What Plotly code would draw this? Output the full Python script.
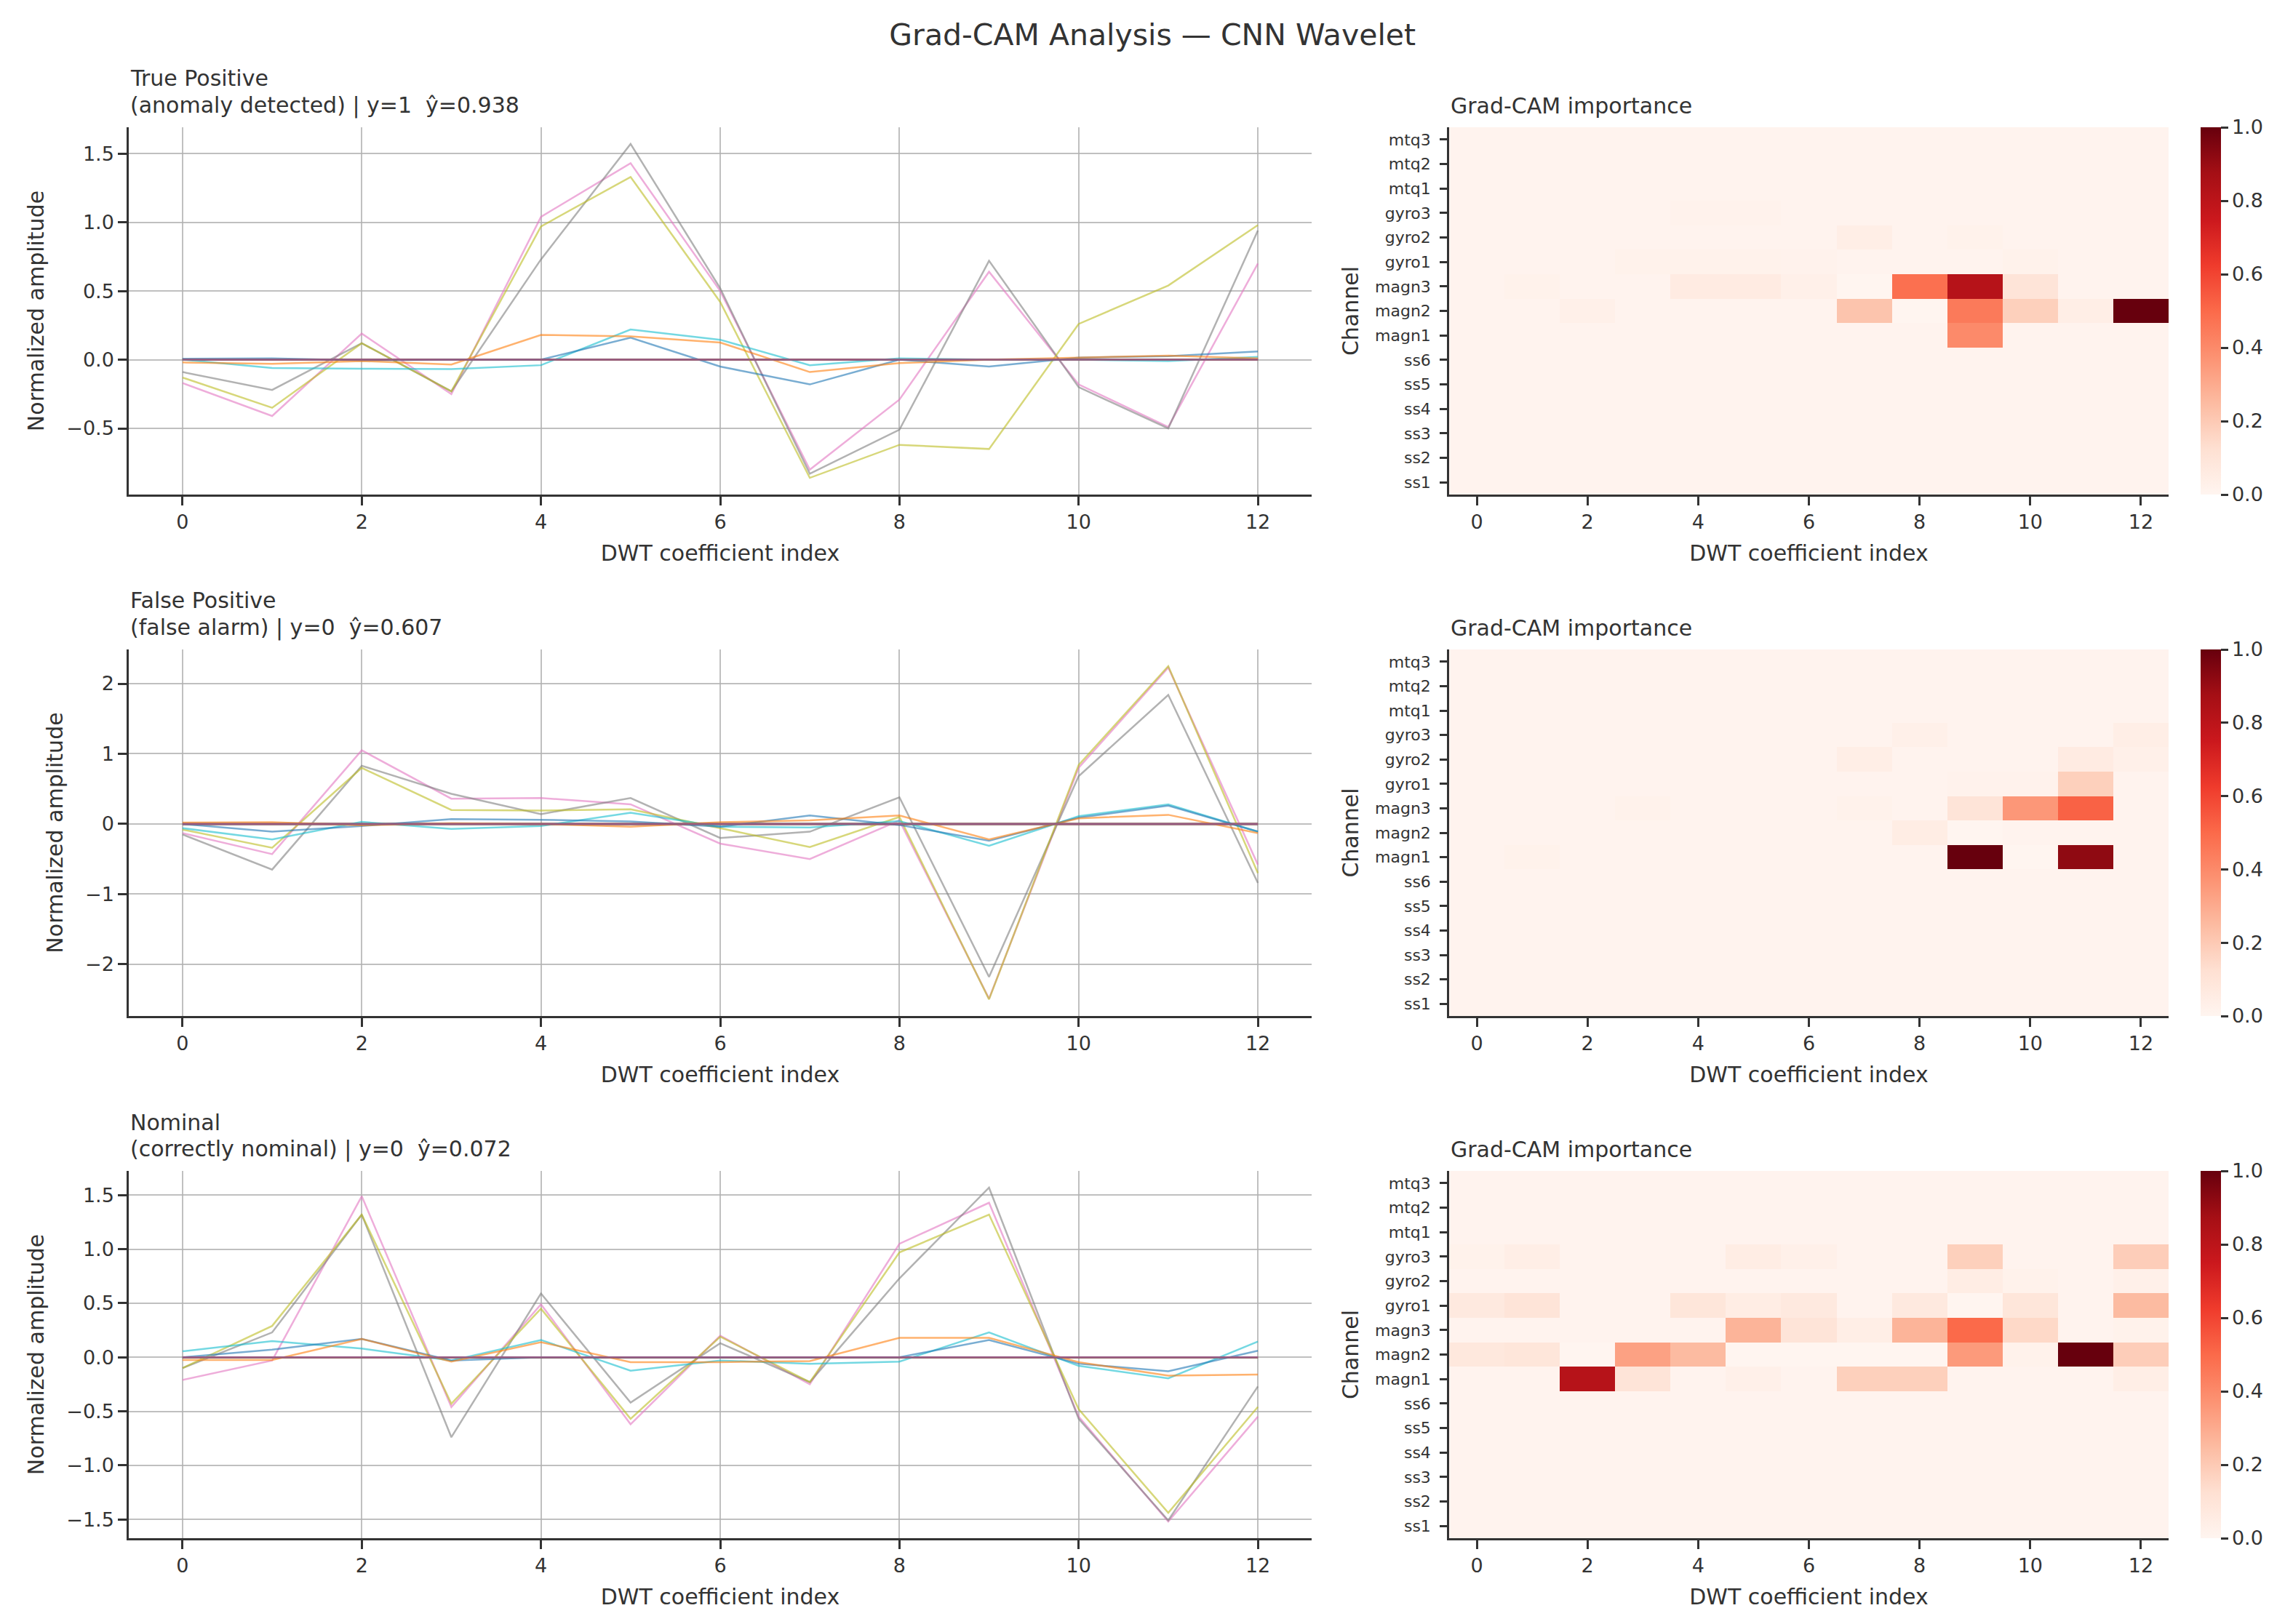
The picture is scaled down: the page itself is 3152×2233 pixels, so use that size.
import plotly.graph_objects as go
import plotly.colors as pc

# ---------------- data ----------------
coef_idx = list(range(13))
channels = ["ss1", "ss2", "ss3", "ss4", "ss5", "ss6",
            "magn1", "magn2", "magn3", "gyro1", "gyro2", "gyro3",
            "mtq1", "mtq2", "mtq3"]
channel_colors = ["#1f77b4", "#ff7f0e", "#2ca02c", "#d62728", "#9467bd", "#8c564b",
                  "#e377c2", "#7f7f7f", "#bcbd22", "#17becf", "#1f77b4", "#ff7f0e",
                  "#2ca02c", "#d62728", "#9467bd"]

case_names = ["True Positive", "False Positive", "Nominal"]
case_details = ["(anomaly detected) | y=1 \u00a0ŷ=0.938",
                "(false alarm) | y=0 \u00a0ŷ=0.607",
                "(correctly nominal) | y=0 \u00a0ŷ=0.072"]

flat = [0, 0, 0, 0, 0, 0, 0, 0, 0, 0, 0, 0, 0]

# signals: True Positive
tp_magn1 = [-0.17, -0.41, 0.19, -0.25, 1.04, 1.43, 0.50, -0.80, -0.29, 0.64, -0.18, -0.49, 0.70]
tp_magn2 = [-0.09, -0.22, 0.12, -0.23, 0.73, 1.57, 0.52, -0.83, -0.51, 0.72, -0.20, -0.50, 0.94]
tp_magn3 = [-0.13, -0.35, 0.12, -0.23, 0.97, 1.33, 0.42, -0.86, -0.62, -0.65, 0.26, 0.54, 0.98]
tp_gyro1 = [0.00, -0.06, -0.066, -0.068, -0.04, 0.22, 0.145, -0.04, 0.01, 0.00, 0.00, -0.01, 0.02]
tp_gyro2 = [0.007, 0.01, -0.005, 0.00, 0.00, 0.16, -0.05, -0.18, 0.00, -0.05, 0.015, 0.025, 0.06]
tp_gyro3 = [-0.02, -0.03, -0.01, -0.035, 0.18, 0.17, 0.125, -0.09, -0.025, 0.00, 0.015, 0.03, 0.01]

# signals: False Positive
fp_magn1 = [-0.13, -0.43, 1.05, 0.36, 0.37, 0.28, -0.28, -0.50, 0.05, -2.49, 0.80, 2.23, -0.58]
fp_magn2 = [-0.15, -0.65, 0.83, 0.43, 0.14, 0.37, -0.20, -0.11, 0.38, -2.18, 0.68, 1.84, -0.84]
fp_magn3 = [-0.08, -0.34, 0.80, 0.20, 0.19, 0.21, -0.06, -0.33, 0.10, -2.50, 0.84, 2.25, -0.70]
fp_gyro1 = [-0.06, -0.22, 0.03, -0.07, -0.03, 0.16, -0.04, -0.05, 0.04, -0.31, 0.11, 0.28, -0.11]
fp_gyro2 = [0.00, -0.11, -0.03, 0.07, 0.06, 0.035, -0.04, 0.12, -0.015, -0.24, 0.09, 0.26, -0.11]
fp_gyro3 = [0.02, 0.025, -0.02, 0.01, 0.00, -0.04, 0.025, 0.05, 0.12, -0.22, 0.08, 0.13, -0.13]

# signals: Nominal
nm_magn1 = [-0.21, -0.03, 1.49, -0.46, 0.49, -0.62, 0.20, -0.25, 1.05, 1.43, -0.55, -1.52, -0.55]
nm_magn2 = [-0.10, 0.23, 1.32, -0.74, 0.59, -0.42, 0.13, -0.23, 0.73, 1.57, -0.57, -1.51, -0.27]
nm_magn3 = [-0.10, 0.29, 1.32, -0.43, 0.45, -0.57, 0.19, -0.23, 0.97, 1.32, -0.48, -1.44, -0.46]
nm_gyro1 = [0.055, 0.15, 0.08, -0.03, 0.16, -0.125, -0.03, -0.06, -0.04, 0.23, -0.08, -0.195, 0.145]
nm_gyro2 = [0.00, 0.07, 0.17, -0.03, 0.00, 0.00, 0.00, 0.00, 0.00, 0.16, -0.06, -0.13, 0.06]
nm_gyro3 = [-0.025, -0.025, 0.17, -0.04, 0.14, -0.045, -0.045, -0.035, 0.18, 0.18, -0.045, -0.17, -0.16]

bg = [0.01, 0.01, 0.01, 0.01, 0.01, 0.01, 0.01, 0.01, 0.01, 0.01, 0.01, 0.01, 0.01]

# Grad-CAM importance: True Positive
cam_tp_magn1 = [.01, .01, .01, .01, .01, .01, .01, .01, .01, .40, .01, .01, .01]
cam_tp_magn2 = [.01, .01, .03, .01, .01, .01, .01, .22, .00, .45, .18, .04, 1.0]
cam_tp_magn3 = [.01, .02, .01, .01, .06, .06, .03, .00, .48, .82, .10, .01, .01]
cam_tp_gyro1 = [.01, .01, .01, .02, .02, .02, .015, .01, .01, .01, .02, .01, .01]
cam_tp_gyro2 = [.01, .01, .01, .01, .01, .01, .01, .04, .01, .02, .01, .01, .01]
cam_tp_gyro3 = [.01, .01, .01, .01, .015, .015, .01, .01, .01, .01, .01, .01, .01]

# Grad-CAM importance: False Positive
cam_fp_magn1 = [.01, .02, .01, .01, .01, .01, .01, .01, .01, 1.0, .00, .92, .01]
cam_fp_magn2 = [.01, .01, .01, .01, .01, .01, .01, .01, .05, .00, .01, .01, .01]
cam_fp_magn3 = [.01, .01, .01, .02, .01, .01, .01, .02, .01, .10, .36, .52, .01]
cam_fp_gyro1 = [.01, .01, .01, .01, .01, .01, .01, .01, .01, .015, .015, .18, .01]
cam_fp_gyro2 = [.01, .01, .01, .01, .01, .01, .01, .04, .01, .01, .01, .06, .03]
cam_fp_gyro3 = [.01, .01, .01, .01, .01, .01, .01, .01, .03, .01, .01, .01, .04]

# Grad-CAM importance: Nominal
cam_nm_magn1 = [.01, .01, .82, .10, .01, .03, .01, .18, .18, .01, .01, .01, .04]
cam_nm_magn2 = [.08, .09, .00, .33, .25, .00, .00, .00, .00, .35, .02, 1.0, .19]
cam_nm_magn3 = [.01, .01, .01, .01, .01, .27, .10, .04, .27, .50, .15, .01, .02]
cam_nm_gyro1 = [.07, .10, .01, .01, .09, .05, .07, .01, .07, .00, .09, .01, .25]
cam_nm_gyro2 = [.01, .01, .01, .01, .01, .01, .01, .01, .01, .05, .02, .01, .03]
cam_nm_gyro3 = [.02, .04, .01, .01, .01, .05, .03, .01, .01, .18, .01, .01, .19]

signals = [
    [flat] * 6 + [tp_magn1, tp_magn2, tp_magn3, tp_gyro1, tp_gyro2, tp_gyro3] + [flat] * 3,
    [flat] * 6 + [fp_magn1, fp_magn2, fp_magn3, fp_gyro1, fp_gyro2, fp_gyro3] + [flat] * 3,
    [flat] * 6 + [nm_magn1, nm_magn2, nm_magn3, nm_gyro1, nm_gyro2, nm_gyro3] + [flat] * 3,
]
cams = [
    [bg] * 6 + [cam_tp_magn1, cam_tp_magn2, cam_tp_magn3, cam_tp_gyro1, cam_tp_gyro2, cam_tp_gyro3] + [bg] * 3,
    [bg] * 6 + [cam_fp_magn1, cam_fp_magn2, cam_fp_magn3, cam_fp_gyro1, cam_fp_gyro2, cam_fp_gyro3] + [bg] * 3,
    [bg] * 6 + [cam_nm_magn1, cam_nm_magn2, cam_nm_magn3, cam_nm_gyro1, cam_nm_gyro2, cam_nm_gyro3] + [bg] * 3,
]
y_dticks = [0.5, 1, 0.5]
y_formats = [".1f", "d", ".1f"]

# ---------------- layout geometry ----------------
W, H = 3152, 2233
FONT = "DejaVu Sans"
TXT = "#333333"
left_dom = [177 / W, 1803 / W]
right_dom = [1992 / W, 2981 / W]
rows_px = [(175, 680), (893, 1397), (1610, 2115)]
row_doms = [[1 - b / H, 1 - t / H] for t, b in rows_px]
cbar_x = 3025 / W


def hex_rgba(h, a):
    h = h.lstrip("#")
    return "rgba(%d,%d,%d,%.2f)" % (int(h[0:2], 16), int(h[2:4], 16), int(h[4:6], 16), a)


fig = go.Figure()
layout = dict(
    width=W, height=H,
    margin=dict(l=0, r=0, t=0, b=0),
    paper_bgcolor="white", plot_bgcolor="white",
    font=dict(family=FONT, size=27, color=TXT),
    showlegend=False,
    title=dict(text="Grad-CAM Analysis — CNN Wavelet", x=0.5026, xanchor="center",
               y=1 - 48 / H, yanchor="middle", font=dict(size=41, color=TXT, family=FONT)),
)
annotations = []
reds = pc.sequential.Reds

axis_common = dict(showline=True, linecolor=TXT, linewidth=2.5, ticks="outside",
                   ticklen=12, tickwidth=2.5, tickcolor=TXT, zeroline=False,
                   tickfont=dict(size=27, color=TXT, family=FONT), mirror=False)

for r in range(3):
    la = 2 * r + 1
    ha = 2 * r + 2
    lx, ly = ("x" if la == 1 else "x%d" % la), ("y" if la == 1 else "y%d" % la)
    hx, hy = "x%d" % ha, "y%d" % ha

    vals = [v for s in signals[r] for v in s]
    lo, hi = min(vals), max(vals)
    pad = 0.05 * (hi - lo)

    for ch, col, sig in zip(channels, channel_colors, signals[r]):
        fig.add_trace(go.Scatter(x=coef_idx, y=sig, mode="lines", name=ch,
                                 line=dict(color=hex_rgba(col, 0.6), width=2.5),
                                 xaxis=lx, yaxis=ly, hoverinfo="skip"))

    fig.add_trace(go.Heatmap(
        z=cams[r], x=coef_idx, y=channels, zmin=0, zmax=1, colorscale=reds,
        xaxis=hx, yaxis=hy,
        colorbar=dict(x=cbar_x, xanchor="left", thickness=28, thicknessmode="pixels",
                      len=row_doms[r][1] - row_doms[r][0], lenmode="fraction",
                      y=row_doms[r][0], yanchor="bottom", outlinewidth=0, ypad=0, xpad=0,
                      tickvals=[0, 0.2, 0.4, 0.6, 0.8, 1.0], tickformat=".1f",
                      ticks="outside", ticklen=10, tickwidth=2.5, tickcolor=TXT,
                      tickfont=dict(size=27, color=TXT, family=FONT)),
    ))

    layout["xaxis" + ("" if la == 1 else str(la))] = dict(
        axis_common, domain=left_dom, anchor=ly, range=[-0.6, 12.6],
        tickmode="linear", tick0=0, dtick=2,
        showgrid=True, gridcolor="rgba(176,176,176,0.8)", gridwidth=2,
        title=dict(text="DWT coefficient index", standoff=18,
                   font=dict(size=30, color=TXT, family=FONT)))
    layout["yaxis" + ("" if la == 1 else str(la))] = dict(
        axis_common, domain=row_doms[r], anchor=lx, range=[lo - pad, hi + pad],
        tickmode="linear", tick0=0, dtick=y_dticks[r], tickformat=y_formats[r],
        showgrid=True, gridcolor="rgba(176,176,176,0.8)", gridwidth=2,
        title=dict(text="Normalized amplitude", standoff=22,
                   font=dict(size=30, color=TXT, family=FONT)))
    layout["xaxis%d" % ha] = dict(
        axis_common, domain=right_dom, anchor=hy, range=[-0.5, 12.5],
        tickmode="linear", tick0=0, dtick=2, showgrid=False,
        title=dict(text="DWT coefficient index", standoff=18,
                   font=dict(size=30, color=TXT, family=FONT)))
    layout["yaxis%d" % ha] = dict(
        axis_common, domain=row_doms[r], anchor=hx, showgrid=False,
        ticklen=10, ticklabelstandoff=8, tickfont=dict(size=22, color=TXT, family=FONT),
        title=dict(text="Channel", standoff=14,
                   font=dict(size=30, color=TXT, family=FONT)))

    top_px = rows_px[r][0]
    annotations.append(dict(text=case_names[r], xref="paper", yref="paper",
                            x=left_dom[0], y=1 - (top_px - 67) / H,
                            xanchor="left", yanchor="middle", align="left",
                            showarrow=False, font=dict(size=30, color=TXT, family=FONT)))
    annotations.append(dict(text=case_details[r], xref="paper", yref="paper",
                            x=left_dom[0], y=1 - (top_px - 30) / H,
                            xanchor="left", yanchor="middle", align="left",
                            showarrow=False, font=dict(size=30, color=TXT, family=FONT)))
    annotations.append(dict(text="Grad-CAM importance", xref="paper", yref="paper",
                            x=right_dom[0], y=1 - (top_px - 30) / H,
                            xanchor="left", yanchor="middle", align="left",
                            showarrow=False, font=dict(size=30, color=TXT, family=FONT)))

layout["annotations"] = annotations
fig.update_layout(**layout)
fig.write_html("out.html")
